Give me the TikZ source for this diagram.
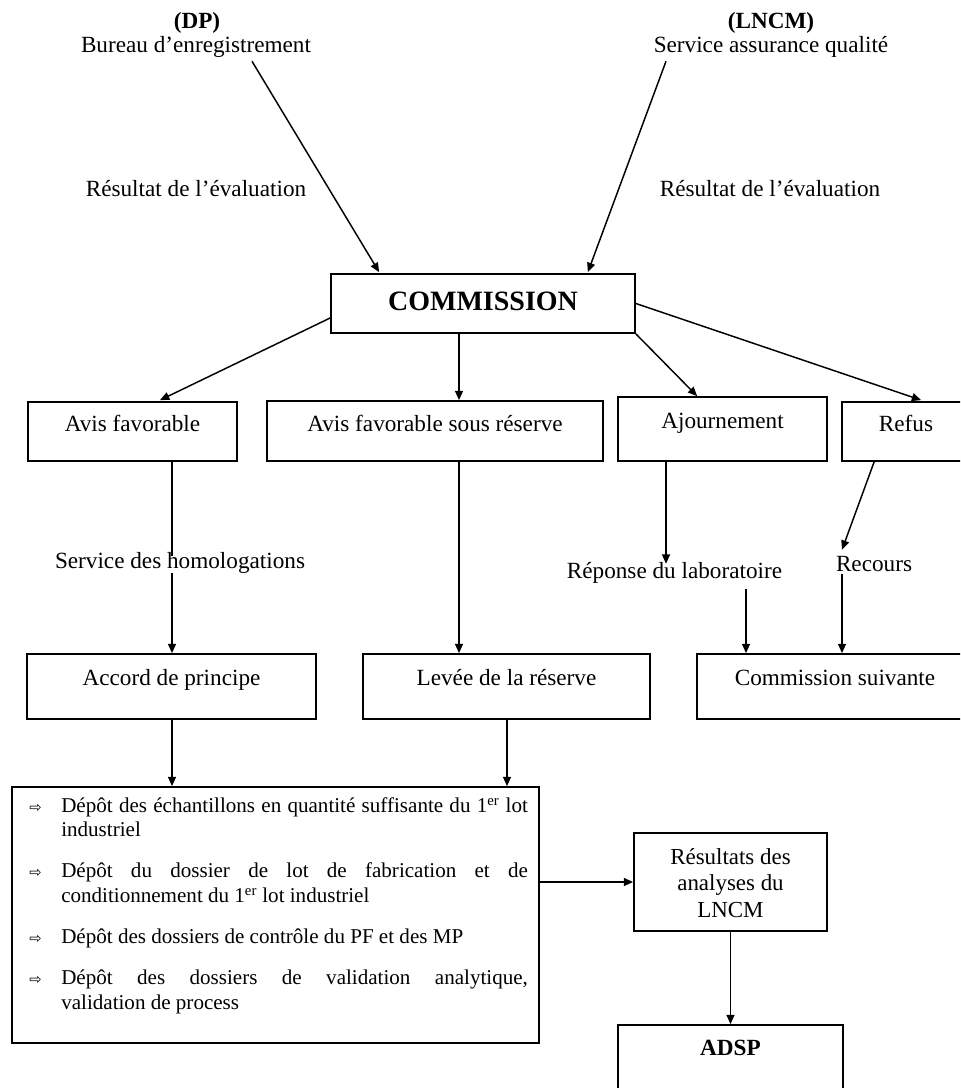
\documentclass[tikz,border=0pt]{standalone}
\usepackage{fontspec}
\setmainfont{Liberation Serif}
\newfontfamily\symfont{DejaVu Sans}
\usetikzlibrary{arrows.meta,calc,fit}

% hanging arrow bullet for the deposit list
\newcommand{\depbullet}{\leavevmode\llap{\makebox[24pt][l]{\symfont\fontsize{11}{11}\selectfont ⇨}}}

\begin{document}
\begin{tikzpicture}[x=0.75pt,y=-0.75pt,
  panel/.style={draw, line width=1.3pt, inner sep=0pt},
  lbl/.style={font=\fontsize{17.4}{20}\selectfont, inner sep=0pt,
              text height=0.7em, text depth=0.2em, yshift=-3.75pt},
  blbl/.style={lbl, font=\fontsize{17.4}{20}\selectfont\bfseries},
  con/.style={line width=1.1pt},
  arr/.style={con, -{Triangle[length=7pt,width=6pt]}}]

\useasboundingbox (0,0) rectangle (960,1088);
\clip (0,0) rectangle (960,1088);

% x positions of the vertical connectors
\coordinate (x172) at (172,0);
\coordinate (x459) at (459,0);
\coordinate (x507) at (507,0);
\coordinate (x666) at (666,0);
\coordinate (x746) at (746,0);
\coordinate (x842) at (842,0);

% sources
\node[blbl] (dp) at (197,20) {(DP)};
\node[lbl] (bureau) at (196,44) {Bureau d’enregistrement};
\node[blbl] (lncm) at (771,20) {(LNCM)};
\node[lbl] (saq) at (771,44) {Service assurance qualité};
\node[lbl] (eval1) at (196,188) {Résultat de l’évaluation};
\node[lbl] (eval2) at (770,188) {Résultat de l’évaluation};

% commission
\node[panel, fit={(331,274) (635,333)}] (comm) {};
\node[lbl, font=\fontsize{21}{24}\selectfont\bfseries] at (483,302) {COMMISSION};

% decisions
\node[panel, fit={(28,402) (237,461)}] (af) {};
\node[lbl] at (132.5,423) {Avis favorable};
\node[panel, fit={(267,401) (603,461)}] (afr) {};
\node[lbl] at (435,423) {Avis favorable sous réserve};
\node[panel, fit={(618,397) (827,461)}] (aj) {};
\node[lbl] at (722.5,420) {Ajournement};
\node[panel, fit={(842,402) (975,461)}] (ref) {};
\node[lbl] at (906,423) {Refus};

% intermediate labels
\node[lbl] (homolog) at (180,560) {Service des homologations};
\node[lbl] (rep) at (674.5,570) {Réponse du laboratoire};
\node[lbl] (recours) at (874,563) {Recours};

% outcomes
\node[panel, fit={(27,654) (316,719)}] (acc) {};
\node[lbl] at (171.5,677) {Accord de principe};
\node[panel, fit={(363,654) (650,719)}] (lev) {};
\node[lbl] at (506.5,677) {Levée de la réserve};
\node[panel, fit={(697,654) (975,719)}] (cs) {};
\node[lbl] at (835,677) {Commission suivante};

% list of deposits
\node[panel, fit={(12,787) (539,1043)}] (list) {};
\node[anchor=base west, inner sep=0pt] (listtext) at (61,812) {\parbox[t]{350pt}{%
  \fontsize{15.8}{18.4}\selectfont\setlength{\parskip}{12.5pt}%
  \depbullet Dépôt des échantillons en quantité suffisante du 1\textsuperscript{er} lot\linebreak industriel\par
  \depbullet Dépôt du dossier de lot de fabrication et de\linebreak conditionnement du 1\textsuperscript{er} lot industriel\par
  \depbullet Dépôt des dossiers de contrôle du PF et des MP\par
  \depbullet Dépôt des dossiers de validation analytique,\linebreak validation de process}};

% results and authorisation
\node[panel, fit={(634,833) (827,931)}] (res) {};
\node[inner sep=0pt, align=center, font=\fontsize{17.2}{19.9}\selectfont] at (730.5,883) {Résultats des\\analyses du\\LNCM};
\node[panel, fit={(618,1025) (843,1110)}] (adsp) {};
\node[blbl] at (730.5,1047) {ADSP};

% connectors
\draw[arr] ($(bureau.south)+(56,6)$) -- ($(comm.north west)+(49,-1)$);
\draw[arr] ($(saq.south)+(-105,6)$) -- ($(comm.north east)+(-48,-1)$);

\draw[arr] ($(comm.west)+(0,14.5)$) -- ($(af.north)+(27.5,-1)$);
\draw[arr] (comm.south -| x459) -- (afr.north -| x459);
\draw[arr] (comm.south east) -- ($(aj.north west)+(80,0)$);
\draw[arr] (comm.east) -- ($(ref.north west)+(80,-1)$);

\draw[con] (af.south -| x172) -- ($(homolog.north -| x172)+(0,-3)$);
\draw[arr] ($(homolog.south -| x172)+(0,2)$) -- (acc.north -| x172);
\draw[arr] (afr.south -| x459) -- (lev.north -| x459);
\draw[arr] (aj.south -| x666) -- ($(rep.north -| x666)+(0,-5)$);
\draw[arr] ($(ref.south west)+(33,0)$) -- ($(recours.north)+(-32,-12)$);
\draw[arr] ($(rep.south -| x746)+(0,8)$) -- (cs.north -| x746);
\draw[arr] (recours.south -| x842) -- (cs.north -| x842);

\draw[arr] (acc.south -| x172) -- (list.north -| x172);
\draw[arr] (lev.south -| x507) -- (list.north -| x507);
\draw[arr] (list.east |- res.west) -- (res.west);
\draw[arr] (res.south) -- (adsp.north);
\end{tikzpicture}
\end{document}
